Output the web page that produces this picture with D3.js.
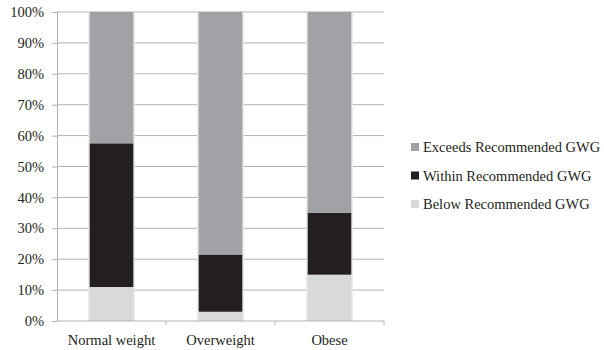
<!DOCTYPE html>
<html>
<head>
<meta charset="utf-8">
<script src="https://cdn.jsdelivr.net/npm/d3@7"></script>
<style>
  html, body { margin: 0; padding: 0; background: #fff; }
  svg { display: block; }
  text { font-family: "Liberation Serif", "DejaVu Serif", serif; fill: #231f20; }
</style>
</head>
<body>
<svg id="chart" width="604" height="350"></svg>
<script>
// Gestational weight gain (GWG) by pre-pregnancy BMI category, percent of women
const categories = ["Normal weight", "Overweight", "Obese"];
const seriesNames = ["Below Recommended GWG", "Within Recommended GWG", "Exceeds Recommended GWG"];
const belowValues = [11, 3, 15];
const withinValues = [46.5, 18.5, 20];
const exceedsValues = [42.5, 78.5, 65];
const yTicks = [0, 10, 20, 30, 40, 50, 60, 70, 80, 90, 100];
const seriesColors = ["#d8d9db", "#231f20", "#a1a2a5"];

const rows = categories.map((c, i) => ({
  category: c,
  below: belowValues[i],
  within: withinValues[i],
  exceeds: exceedsValues[i]
}));

const svg = d3.select("#chart");
const margin = { left: 57, right: 220, top: 12, bottom: 29 };
const W = 604, H = 350;
const fontSize = 14.5;

const x = d3.scaleBand()
  .domain(categories)
  .range([margin.left, W - margin.right])
  .paddingInner(0.6)
  .paddingOuter(0.3);

const y = d3.scaleLinear()
  .domain([0, 100])
  .range([H - margin.bottom, margin.top]);

const gridColor = "#b3b3b3";

// horizontal gridlines
svg.append("g")
  .selectAll("line")
  .data(yTicks.filter(t => t > 0))
  .join("line")
  .attr("x1", margin.left)
  .attr("x2", W - margin.right)
  .attr("y1", d => y(d))
  .attr("y2", d => y(d))
  .attr("stroke", gridColor)
  .attr("stroke-width", 1);

// stacked bars
const stack = d3.stack().keys(["below", "within", "exceeds"]);
const layers = stack(rows);

// faint halo around each bar
svg.append("g")
  .selectAll("rect")
  .data(rows)
  .join("rect")
  .attr("x", d => x(d.category) - 1.5)
  .attr("width", x.bandwidth() + 3)
  .attr("y", y(100))
  .attr("height", y(0) - y(100))
  .attr("fill", "#e6e6e7");

svg.append("g")
  .selectAll("g")
  .data(layers)
  .join("g")
  .attr("fill", (d, i) => seriesColors[i])
  .selectAll("rect")
  .data(d => d)
  .join("rect")
  .attr("x", d => x(d.data.category))
  .attr("width", x.bandwidth())
  .attr("y", d => y(d[1]))
  .attr("height", d => y(d[0]) - y(d[1]));

// y axis
const yAxis = d3.axisLeft(y)
  .tickValues(yTicks)
  .tickFormat(d => d + "%")
  .tickSize(5)
  .tickPadding(8);

const gy = svg.append("g")
  .attr("transform", `translate(${margin.left},0)`)
  .call(yAxis);
gy.select(".domain").attr("stroke", gridColor);
gy.selectAll(".tick line").attr("stroke", gridColor);
gy.selectAll(".tick text")
  .attr("font-size", fontSize)
  .attr("font-family", "Liberation Serif, DejaVu Serif, serif")
  .attr("fill", "#231f20");

// x axis with ticks on category boundaries
const gx = svg.append("g");
gx.append("line")
  .attr("x1", margin.left)
  .attr("x2", W - margin.right)
  .attr("y1", y(0))
  .attr("y2", y(0))
  .attr("stroke", gridColor);

const step = x.step();
const boundaries = categories.map((c, i) => x(c) + x.bandwidth() / 2 + step / 2);
gx.selectAll("line.b")
  .data(boundaries)
  .join("line")
  .attr("class", "b")
  .attr("x1", d => d)
  .attr("x2", d => d)
  .attr("y1", y(0))
  .attr("y2", y(0) + 4)
  .attr("stroke", gridColor);

gx.selectAll("text")
  .data(categories)
  .join("text")
  .attr("x", d => x(d) + x.bandwidth() / 2)
  .attr("y", y(0) + 24)
  .attr("text-anchor", "middle")
  .attr("font-size", fontSize)
  .text(d => d);

// legend, top entry is the top of the stack
const legendItems = [2, 1, 0].map(i => ({ name: seriesNames[i], color: seriesColors[i] }));
const legend = svg.append("g").attr("transform", "translate(411,147)");
const li = legend.selectAll("g")
  .data(legendItems)
  .join("g")
  .attr("transform", (d, i) => `translate(0,${i * 28.5})`);
li.append("rect")
  .attr("x", 0)
  .attr("y", -4)
  .attr("width", 8)
  .attr("height", 8)
  .attr("fill", d => d.color);
li.append("text")
  .attr("x", 12)
  .attr("y", 0)
  .attr("dy", "0.35em")
  .attr("font-size", fontSize)
  .text(d => d.name);
</script>
</body>
</html>
